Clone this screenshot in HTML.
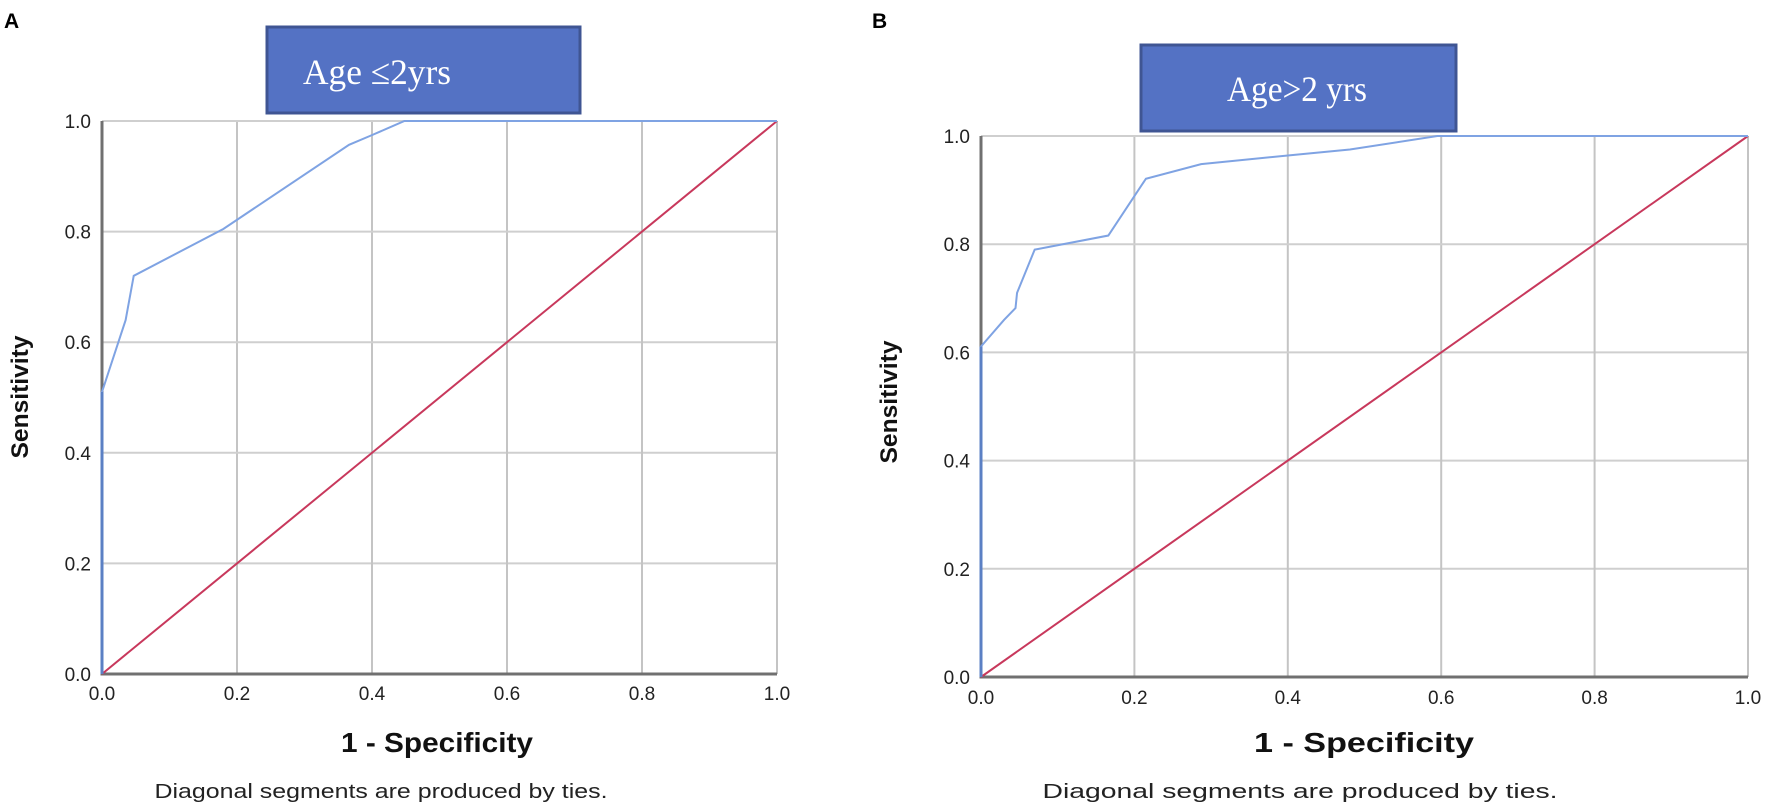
<!DOCTYPE html>
<html><head><meta charset="utf-8"><style>
html,body{margin:0;padding:0;background:#fff;}
svg{display:block;font-family:"Liberation Sans",sans-serif;}
</style></head><body>
<svg id="chart" width="1772" height="810" viewBox="0 0 1772 810" xmlns="http://www.w3.org/2000/svg">
<rect width="1772" height="810" fill="#fff"/>
<text x="4" y="28" font-size="21" font-weight="bold">A</text>
<text x="872" y="28" font-size="21" font-weight="bold">B</text>
<g id="pa"></g>
<g id="pb"></g>
<g>
<rect x="267" y="27" width="313" height="86" fill="#5472c4" stroke="#3f5593" stroke-width="3"/>
<text x="303" y="84" font-family="Liberation Serif,serif" font-size="36" fill="#fff" textLength="148" lengthAdjust="spacingAndGlyphs">Age ≤2yrs</text>
</g>
<g>
<rect x="1141" y="45" width="315" height="86" fill="#5472c4" stroke="#3f5593" stroke-width="3"/>
<text x="1227" y="101" font-family="Liberation Serif,serif" font-size="36" fill="#fff" textLength="140" lengthAdjust="spacingAndGlyphs">Age&gt;2 yrs</text>
</g>
</svg>
<script>
const ticks = [0, 0.2, 0.4, 0.6, 0.8, 1.0];
const tickLabels = ["0.0", "0.2", "0.4", "0.6", "0.8", "1.0"];
const rocAx = [0, 0, 0.035, 0.047, 0.18, 0.366, 0.399, 0.448, 1.0];
const rocAy = [0, 0.51, 0.64, 0.72, 0.805, 0.957, 0.974, 1.0, 1.0];
const rocBx = [0, 0, 0.03, 0.045, 0.047, 0.070, 0.166, 0.215, 0.287, 0.40, 0.481, 0.595, 1.0];
const rocBy = [0, 0.611, 0.66, 0.682, 0.71, 0.79, 0.816, 0.921, 0.948, 0.964, 0.975, 1.0, 1.0];
const refX = [0, 1];
const refY = [0, 1];
const NS = "http://www.w3.org/2000/svg";
function mk(tag, attrs, parent) {
  const e = document.createElementNS(NS, tag);
  for (const k in attrs) e.setAttribute(k, attrs[k]);
  parent.appendChild(e);
  return e;
}
function panel(g, L, R, T, B, rx, ry, opt) {
  const sx = v => L + v * (R - L);
  const sy = v => B - v * (B - T);
  ticks.forEach((t, i) => {
    const gl = mk("line", {x1: L, x2: R, y1: sy(t), y2: sy(t), stroke: "#cfcfcf", "stroke-width": 2}, g);
    
    
    const vl = mk("line", {x1: sx(t), x2: sx(t), y1: T, y2: B, stroke: "#c4c4c4", "stroke-width": 2}, g);
    
    
    const yl = mk("text", {x: L - 11, y: sy(t) + 7, "font-size": 19, "text-anchor": "end", fill: "#222"}, g);
    yl.textContent = tickLabels[i];
    
    
    const xl = mk("text", {x: sx(t), y: opt.xly, "font-size": 19, "text-anchor": "middle", fill: "#222"}, g);
    xl.textContent = tickLabels[i];
    
    
  });
  const ax = mk("path", {d: `M${L},${T}V${B}H${R}`, fill: "none", stroke: "#707070", "stroke-width": 3}, g);
  
  
  const ref = mk("polyline", {points: refX.map((x, i) => sx(x) + "," + sy(refY[i])).join(" "), fill: "none", stroke: "#c8385c", "stroke-width": 2}, g);
  
  
  const roc = mk("polyline", {points: rx.map((x, i) => sx(x) + "," + sy(ry[i])).join(" "), fill: "none", stroke: "#7fa3e3", "stroke-width": 2}, g);
  
  
  const vseg = mk("line", {x1: sx(rx[0]), x2: sx(rx[1]), y1: sy(ry[0]), y2: sy(ry[1]), stroke: "#5b80c4", "stroke-width": 3}, g);
  
  
  const xt = mk("text", {x: opt.xtx, y: 752, "font-size": 28, "font-weight": "bold", "text-anchor": "middle", textLength: opt.xtw, lengthAdjust: "spacingAndGlyphs", fill: "#111"}, g);
  xt.textContent = "1 - Specificity";
  
  
  const nt = mk("text", {x: opt.ntx, y: 798, "font-size": 20, "text-anchor": "middle", textLength: opt.ntw, lengthAdjust: "spacingAndGlyphs", fill: "#222"}, g);
  nt.textContent = "Diagonal segments are produced by ties.";
  
  
  const yt = mk("text", {x: 0, y: 0, "font-size": 24, "font-weight": "bold", "text-anchor": "middle", textLength: 123, lengthAdjust: "spacingAndGlyphs", transform: `translate(${opt.ytx},${opt.yty}) rotate(-90)`, fill: "#111"}, g);
  yt.textContent = "Sensitivity";
  
  
}
panel(document.getElementById("pa"), 102, 777, 121, 674, rocAx, rocAy,
  {xly: 700, xtx: 437, xtw: 192, ntx: 381, ntw: 453, ytx: 28, yty: 397});
panel(document.getElementById("pb"), 981, 1748, 136, 677, rocBx, rocBy,
  {xly: 704, xtx: 1364, xtw: 220, ntx: 1300, ntw: 515, ytx: 897, yty: 402});
</script>
</body></html>
